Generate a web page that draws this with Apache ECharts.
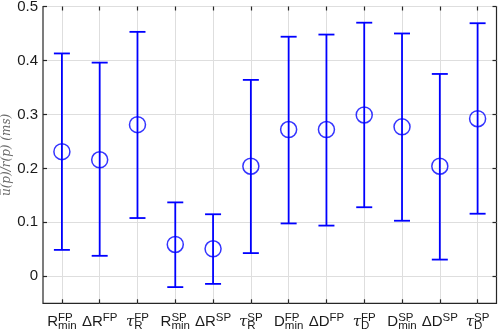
<!DOCTYPE html>
<html>
<head>
<meta charset="utf-8">
<script src="https://cdn.jsdelivr.net/npm/echarts@6/dist/echarts.min.js"></script>
<style>
  html, body { margin: 0; padding: 0; background: #fff; }
  #chart { width: 498px; height: 334px; }
</style>
</head>
<body>
<div id="chart"></div>
<script>
  // category labels: base letter, superscript, subscript
  var labelBase = ['R', 'ΔR', 'τ', 'R', 'ΔR', 'τ', 'D', 'ΔD', 'τ', 'D', 'ΔD', 'τ'];
  var labelSup = ['FP', 'FP', 'FP', 'SP', 'SP', 'SP', 'FP', 'FP', 'FP', 'SP', 'SP', 'SP'];
  var labelSub = ['min', '', 'R', 'min', '', 'R', 'min', '', 'D', 'min', '', 'D'];

  // mean value and error bar ends (ms)
  var meanValues = [0.231, 0.216, 0.281, 0.059, 0.051, 0.204, 0.272, 0.272, 0.299, 0.277, 0.204, 0.292];
  var lowValues = [0.049, 0.038, 0.108, -0.020, -0.014, 0.043, 0.098, 0.094, 0.128, 0.103, 0.031, 0.116];
  var highValues = [0.413, 0.396, 0.453, 0.137, 0.115, 0.364, 0.444, 0.448, 0.470, 0.450, 0.375, 0.469];

  var yTicks = [0, 0.1, 0.2, 0.3, 0.4, 0.5];
  var xTicks = [1, 2, 3, 4, 5, 6, 7, 8, 9, 10, 11, 12];

  var blue = '#0000ff';
  var axisColor = '#262626';
  var textColor = '#1a1a1a';

  function makeLabel(v) {
    var i = Math.round(v) - 1;
    if (i < 0 || i >= labelBase.length) return '';
    var baseStyle = labelBase[i] === 'τ' ? 'tau' : 'b';
    var s = '{' + baseStyle + '|' + labelBase[i] + '}';
    if (!labelSub[i]) {
      return s + '{sup|' + labelSup[i] + '}';
    }
    // narrower script goes first with zero width so both stack in one column
    if (labelSub[i].length > labelSup[i].length) {
      return s + '{sup0|' + labelSup[i] + '}{sub|' + labelSub[i] + '}';
    }
    return s + '{sub0|' + labelSub[i] + '}{sup|' + labelSup[i] + '}';
  }

  var errData = xTicks.map(function (x, i) { return [x, lowValues[i], highValues[i]]; });
  var meanData = xTicks.map(function (x, i) { return [x, meanValues[i]]; });

  var chart = echarts.init(document.getElementById('chart'));
  var option = {
    animation: false,
    grid: {
      left: 43, right: 1.5, top: 6.5, bottom: 30.7,
      containLabel: false, outerBoundsMode: 'none',
      show: true, borderColor: axisColor, borderWidth: 1.2, backgroundColor: '#fff'
    },
    xAxis: [{
      type: 'value', min: 0.5, max: 12.5,
      axisLine: { show: false, onZero: false },
      axisTick: { inside: true, length: 4, customValues: xTicks, lineStyle: { color: axisColor, width: 1.2 } },
      splitLine: { show: true, lineStyle: { color: '#dedede', width: 1 } },
      axisLabel: {
        customValues: xTicks, margin: 9, formatter: makeLabel, hideOverlap: false,
        fontFamily: 'Liberation Sans', color: textColor,
        rich: {
          b: { fontSize: 15, lineHeight: 20, verticalAlign: 'middle', align: 'left', fontFamily: 'Liberation Sans', color: textColor },
          tau: { fontSize: 15, lineHeight: 20, verticalAlign: 'middle', align: 'left', fontStyle: 'italic', fontFamily: 'DejaVu Serif', color: textColor },
          sup: { fontSize: 11.5, lineHeight: 6, verticalAlign: 'top', align: 'left', fontFamily: 'Liberation Sans', color: textColor },
          sup0: { fontSize: 11.5, lineHeight: 6, width: 0, verticalAlign: 'top', align: 'left', fontFamily: 'Liberation Sans', color: textColor },
          sub: { fontSize: 11.5, lineHeight: 8, verticalAlign: 'bottom', align: 'left', fontFamily: 'Liberation Sans', color: textColor },
          sub0: { fontSize: 11.5, lineHeight: 8, width: 0, verticalAlign: 'bottom', align: 'left', fontFamily: 'Liberation Sans', color: textColor }
        }
      }
    }, {
      type: 'value', min: 0.5, max: 12.5, position: 'top',
      axisLine: { show: false, onZero: false },
      axisTick: { inside: true, length: 4, customValues: xTicks, lineStyle: { color: axisColor, width: 1.2 } },
      axisLabel: { show: false },
      splitLine: { show: false }
    }],
    yAxis: [{
      type: 'value', min: -0.05, max: 0.5,
      name: 'u\u0305(p)/r(p) (ms)', nameLocation: 'middle', nameGap: 30, nameMoveOverlap: false,
      nameTextStyle: { fontFamily: 'DejaVu Serif', fontStyle: 'italic', fontSize: 12, color: '#6a6a6a' },
      axisLine: { show: false, onZero: false },
      axisTick: { inside: true, length: 4, customValues: yTicks, lineStyle: { color: axisColor, width: 1.2 } },
      splitLine: { show: true, lineStyle: { color: '#dedede', width: 1 } },
      axisLabel: {
        customValues: yTicks, margin: 5, fontSize: 15, fontFamily: 'Liberation Sans', color: textColor,
        formatter: function (v) { return String(Math.round(v * 10) / 10); }
      }
    }, {
      type: 'value', min: -0.05, max: 0.5, position: 'right',
      axisLine: { show: false, onZero: false },
      axisTick: { inside: true, length: 4, customValues: yTicks, lineStyle: { color: axisColor, width: 1.2 } },
      axisLabel: { show: false },
      splitLine: { show: false }
    }],
    series: [{
      type: 'custom',
      data: errData,
      renderItem: function (params, api) {
        var top = api.coord([api.value(0), api.value(2)]);
        var bot = api.coord([api.value(0), api.value(1)]);
        var half = 8;
        var st = { stroke: blue, lineWidth: 1.8 };
        return {
          type: 'group',
          children: [
            { type: 'line', shape: { x1: top[0], y1: top[1], x2: bot[0], y2: bot[1] }, style: st },
            { type: 'line', shape: { x1: top[0] - half, y1: top[1], x2: top[0] + half, y2: top[1] }, style: st },
            { type: 'line', shape: { x1: bot[0] - half, y1: bot[1], x2: bot[0] + half, y2: bot[1] }, style: st }
          ]
        };
      },
      z: 3
    }, {
      type: 'scatter',
      data: meanData,
      symbol: 'circle',
      symbolSize: 16,
      itemStyle: { color: 'rgba(0,0,0,0)', borderColor: blue, borderWidth: 1.5 },
      z: 4
    }]
  };
  chart.setOption(option);
</script>
</body>
</html>
